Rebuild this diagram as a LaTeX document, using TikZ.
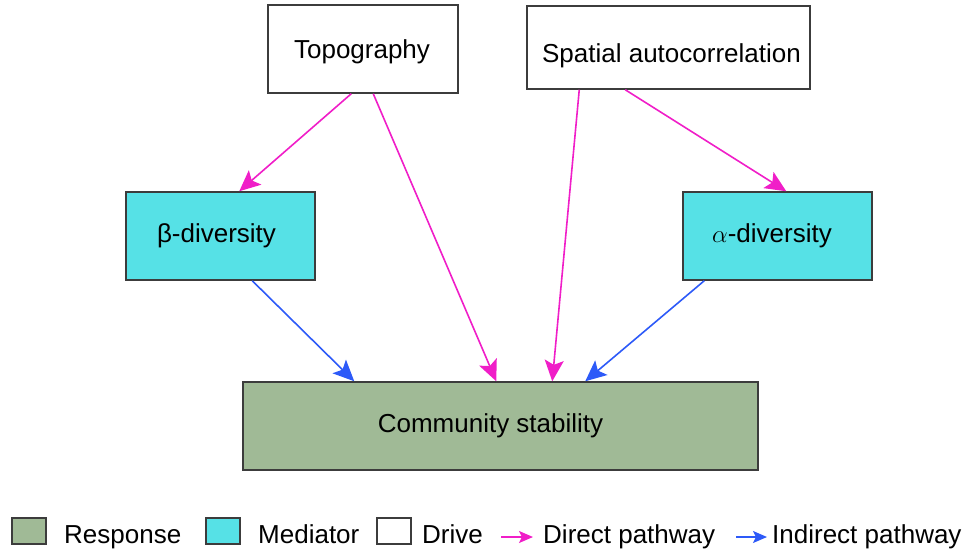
\documentclass[tikz,border=0pt]{standalone}
\usepackage{fontspec}
\setmainfont{Liberation Sans}
\usetikzlibrary{arrows.meta}
\definecolor{magarrow}{RGB}{240,30,200}
\definecolor{bluearrow}{RGB}{45,90,248}
\definecolor{medfill}{RGB}{86,225,230}
\definecolor{respfill}{RGB}{160,186,150}
\definecolor{boxline}{RGB}{60,60,60}
% #1 horizontal kern (twice the wanted shift), #2 raise, #3 text
\newcommand\placetext[3]{\raisebox{#2}[0pt][0pt]{\makebox[0pt][c]{\hspace*{#1}#3}}}
\begin{document}
\begin{tikzpicture}[x=1pt,y=-1pt,
  every node/.style={font=\fontsize{26}{30}\selectfont},
  boxnode/.style={draw=boxline,line width=1.5pt,inner sep=0pt,anchor=center},
  drivebox/.style={boxnode,fill=white},
  medbox/.style={boxnode,fill=medfill},
  respbox/.style={boxnode,fill=respfill},
  swatch/.style={draw=boxline,line width=1.5pt,inner sep=0pt,minimum width=34pt,minimum height=26pt,anchor=north west},
  legtext/.style={anchor=base west,inner sep=0pt},
  bigtip/.style={-{Stealth[length=21pt,width=19pt,inset=4.5pt]}},
  direct/.style={bigtip,draw=magarrow,fill=magarrow,line width=1.6pt},
  indirect/.style={bigtip,draw=bluearrow,fill=bluearrow,line width=1.6pt},
  smalltip/.style={-{Stealth[length=14pt,width=12pt,inset=3pt]},line width=1.5pt}
]
\useasboundingbox (0,0) rectangle (966,554);
% boxes
\node[drivebox,minimum width=190pt,minimum height=88pt] (topo) at (363,49) {\placetext{-2pt}{-9pt}{Topography}};
\node[drivebox,minimum width=283pt,minimum height=83pt] (spat) at (668.5,47.5) {\placetext{6pt}{-14.5pt}{Spatial autocorrelation}};
\node[medbox,minimum width=189pt,minimum height=88pt] (beta) at (220.5,236) {\placetext{-8pt}{-6pt}{β-diversity}};
\node[medbox,minimum width=189pt,minimum height=88pt] (alpha) at (777.5,236) {\placetext{-11pt}{-6pt}{$\alpha$-diversity}};
\node[respbox,minimum width=515pt,minimum height=88pt] (comm) at (500.5,426) {\placetext{-20pt}{-6pt}{Community stability}};
% arrows
\draw[direct] ([xshift=84pt]topo.south west) -- ([xshift=114pt]beta.north west);
\draw[direct] ([xshift=106pt]topo.south west) -- ([xshift=254pt]comm.north west);
\draw[direct] ([xshift=53pt]spat.south west) -- ([xshift=310pt]comm.north west);
\draw[direct] ([xshift=99pt]spat.south west) -- ([xshift=104pt]alpha.north west);
\draw[indirect] ([xshift=127pt]beta.south west) -- ([xshift=112pt]comm.north west);
\draw[indirect] ([xshift=22pt]alpha.south west) -- ([xshift=343pt]comm.north west);
% legend
\node[swatch,fill=respfill] (lr) at (11,517) {};
\node[legtext] (lrt) at (64,543) {Response};
\node[swatch,fill=medfill] (lm) at (205,517) {};
\node[legtext] (lmt) at (258,543) {Mediator};
\node[swatch,fill=white] (ld) at (376,517) {};
\node[legtext] (ldt) at (422,543) {Drive};
\coordinate (da) at (501,537);
\coordinate (db) at (533,537);
\draw[smalltip,draw=magarrow,fill=magarrow] (da) -- (db);
\node[legtext] (ldp) at (543,543) {Direct pathway};
\coordinate (ia) at (736,537);
\coordinate (ib) at (767,537);
\draw[smalltip,draw=bluearrow,fill=bluearrow] (ia) -- (ib);
\node[legtext] (lip) at (772,543) {Indirect pathway};
\end{tikzpicture}
\end{document}
